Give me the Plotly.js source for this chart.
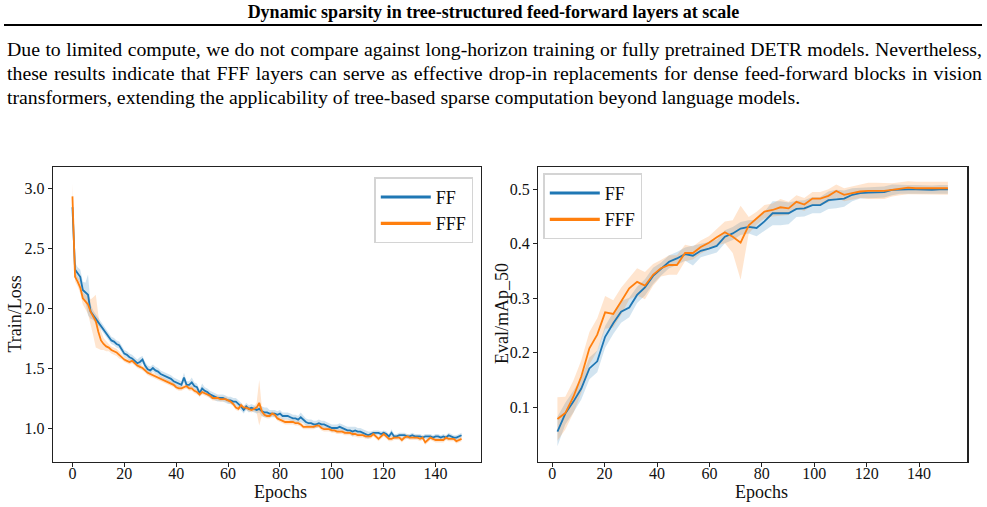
<!DOCTYPE html>
<html>
<head>
<meta charset="utf-8">
<script src="https://cdn.plot.ly/plotly-3.0.1.min.js"></script>
<style>
  html, body { margin: 0; padding: 0; background: #fff; }
  #page { position: relative; width: 987px; height: 507px; overflow: hidden; background: #fff; }
  #chart { position: absolute; left: 0; top: 0; width: 987px; height: 507px; }
  .serif { font-family: 'Liberation Serif', 'Times New Roman', serif; color: #000; }
  #hdr { position: absolute; left: 0; top: 1px; width: 987px; text-align: center;
         font-size: 18px; font-weight: bold; line-height: 22px; z-index: 2; }
  #rule { position: absolute; left: 4px; top: 24px; width: 978px; height: 2px; background: #000; z-index: 2; }
  #para { position: absolute; left: 7px; top: 37px; width: 975px; margin: 0;
          font-size: 19.8px; line-height: 24px; z-index: 2; }
  #para .jl { display: block; white-space: nowrap; text-align: justify; text-align-last: justify; }
  #para .ll { display: block; white-space: nowrap; text-align: left; }
</style>
</head>
<body>
<div id="page">
  <div id="chart"></div>
  <div id="hdr" class="serif">Dynamic sparsity in tree-structured feed-forward layers at scale</div>
  <div id="rule"></div>
  <p id="para" class="serif"><span class="jl">Due to limited compute, we do not compare against long-horizon training or fully pretrained DETR models. Nevertheless,</span><span class="jl">these results indicate that FFF layers can serve as effective drop-in replacements for dense feed-forward blocks in vision</span><span class="ll">transformers, extending the applicability of tree-based sparse computation beyond language models.</span></p>
</div>
<script>
// ---- training loss, one value per epoch (0..150) ----
const lossEpochs = Array.from({length: 151}, (_, i) => i);

const ffLoss = [
  2.84, 2.32, 2.29, 2.26, 2.15, 2.13, 2.11, 1.97, 1.94, 1.91,
  1.88, 1.85, 1.83, 1.80, 1.76, 1.73, 1.72, 1.70, 1.69, 1.65,
  1.62, 1.61, 1.59, 1.58, 1.56, 1.54, 1.55, 1.57, 1.52, 1.49,
  1.48, 1.50, 1.48, 1.47, 1.45, 1.44, 1.43, 1.42, 1.41, 1.39,
  1.38, 1.37, 1.36, 1.42, 1.36, 1.36, 1.38, 1.35, 1.34, 1.29,
  1.33, 1.31, 1.30, 1.28, 1.27, 1.26, 1.25, 1.25, 1.25, 1.24,
  1.23, 1.23, 1.22, 1.22, 1.20, 1.18, 1.15, 1.18, 1.16, 1.17,
  1.16, 1.15, 1.16, 1.14, 1.13, 1.13, 1.12, 1.12, 1.12, 1.11,
  1.12, 1.10, 1.10, 1.10, 1.09, 1.08, 1.08, 1.07, 1.09, 1.07,
  1.05, 1.04, 1.04, 1.03, 1.03, 1.04, 1.03, 1.03, 1.02, 1.01,
  1.00, 1.00, 1.00, 1.01, 1.00, 0.99, 0.98, 0.98, 0.97, 0.98,
  0.97, 0.97, 0.96, 0.95, 0.94, 0.95, 0.96, 0.96, 0.96, 0.95,
  0.96, 0.95, 0.93, 0.96, 0.93, 0.93, 0.94, 0.94, 0.94, 0.93,
  0.93, 0.94, 0.93, 0.93, 0.93, 0.92, 0.93, 0.93, 0.93, 0.92,
  0.93, 0.93, 0.92, 0.93, 0.92, 0.94, 0.93, 0.92, 0.92, 0.93, 0.94
];
const ffLossStd = [
  0.08, 0.06, 0.05, 0.06, 0.07, 0.08, 0.17, 0.06, 0.04, 0.04,
  0.03, 0.03, 0.03, 0.03, 0.03, 0.03, 0.03, 0.03, 0.03, 0.03,
  0.03, 0.03, 0.03, 0.03, 0.03, 0.03, 0.04, 0.03, 0.03, 0.03,
  0.03, 0.03, 0.03, 0.03, 0.03, 0.03, 0.03, 0.03, 0.03, 0.03,
  0.03, 0.03, 0.03, 0.04, 0.03, 0.03, 0.04, 0.03, 0.03, 0.03,
  0.04, 0.03, 0.03, 0.03, 0.03, 0.03, 0.03, 0.03, 0.03, 0.03,
  0.03, 0.03, 0.03, 0.03, 0.03, 0.03, 0.03, 0.03, 0.03, 0.03,
  0.03, 0.03, 0.03, 0.04, 0.04, 0.04, 0.03, 0.03, 0.03, 0.03,
  0.03, 0.03, 0.03, 0.03, 0.03, 0.03, 0.03, 0.03, 0.04, 0.03,
  0.03, 0.03, 0.03, 0.03, 0.03, 0.03, 0.03, 0.03, 0.03, 0.03,
  0.03, 0.03, 0.03, 0.03, 0.03, 0.03, 0.03, 0.03, 0.04, 0.03,
  0.03, 0.03, 0.03, 0.03, 0.03, 0.02, 0.02, 0.02, 0.02, 0.02,
  0.02, 0.02, 0.02, 0.03, 0.02, 0.02, 0.02, 0.02, 0.02, 0.02,
  0.02, 0.02, 0.02, 0.02, 0.02, 0.02, 0.02, 0.02, 0.02, 0.02,
  0.02, 0.02, 0.02, 0.02, 0.02, 0.02, 0.02, 0.02, 0.02, 0.02, 0.02
];
const fffLoss = [
  2.93, 2.26, 2.22, 2.17, 2.08, 2.05, 2.03, 1.97, 1.93, 1.89,
  1.80, 1.73, 1.70, 1.68, 1.67, 1.65, 1.64, 1.63, 1.61, 1.59,
  1.57, 1.56, 1.55, 1.56, 1.54, 1.52, 1.51, 1.50, 1.48, 1.46,
  1.45, 1.44, 1.43, 1.42, 1.41, 1.40, 1.39, 1.38, 1.37, 1.36,
  1.34, 1.33, 1.33, 1.34, 1.35, 1.33, 1.33, 1.31, 1.30, 1.28,
  1.30, 1.29, 1.28, 1.27, 1.25, 1.25, 1.25, 1.24, 1.24, 1.24,
  1.23, 1.22, 1.20, 1.17, 1.16, 1.19, 1.17, 1.17, 1.16, 1.15,
  1.16, 1.17, 1.21, 1.14, 1.11, 1.10, 1.10, 1.12, 1.11, 1.08,
  1.07, 1.06, 1.05, 1.05, 1.05, 1.05, 1.04, 1.04, 1.03, 1.01,
  1.01, 1.01, 1.01, 1.01, 1.02, 1.02, 1.00, 0.99, 0.99, 0.99,
  0.98, 0.98, 0.97, 0.97, 0.97, 0.96, 0.96, 0.96, 0.95, 0.95,
  0.94, 0.94, 0.94, 0.93, 0.93, 0.93, 0.95, 0.93, 0.91, 0.93,
  0.95, 0.93, 0.91, 0.91, 0.92, 0.92, 0.92, 0.90, 0.92, 0.93,
  0.92, 0.92, 0.92, 0.92, 0.91, 0.92, 0.88, 0.90, 0.92, 0.91,
  0.90, 0.90, 0.90, 0.90, 0.92, 0.91, 0.91, 0.91, 0.89, 0.90, 0.91
];
const fffLossStd = [
  0.11, 0.04, 0.04, 0.05, 0.05, 0.06, 0.08, 0.10, 0.16, 0.22,
  0.14, 0.08, 0.05, 0.04, 0.03, 0.03, 0.03, 0.03, 0.03, 0.02,
  0.02, 0.02, 0.02, 0.02, 0.02, 0.02, 0.02, 0.02, 0.02, 0.02,
  0.02, 0.02, 0.02, 0.02, 0.02, 0.02, 0.02, 0.02, 0.02, 0.02,
  0.02, 0.02, 0.02, 0.02, 0.02, 0.02, 0.02, 0.02, 0.02, 0.02,
  0.02, 0.02, 0.02, 0.02, 0.02, 0.02, 0.02, 0.02, 0.02, 0.02,
  0.02, 0.02, 0.02, 0.02, 0.02, 0.02, 0.02, 0.02, 0.02, 0.02,
  0.02, 0.04, 0.19, 0.04, 0.02, 0.02, 0.02, 0.02, 0.02, 0.02,
  0.02, 0.02, 0.02, 0.02, 0.02, 0.02, 0.02, 0.02, 0.02, 0.02,
  0.02, 0.02, 0.02, 0.02, 0.02, 0.02, 0.02, 0.02, 0.02, 0.02,
  0.02, 0.02, 0.02, 0.02, 0.02, 0.02, 0.02, 0.02, 0.02, 0.02,
  0.02, 0.02, 0.02, 0.02, 0.02, 0.02, 0.02, 0.02, 0.02, 0.02,
  0.02, 0.02, 0.02, 0.02, 0.02, 0.02, 0.02, 0.02, 0.02, 0.02,
  0.02, 0.02, 0.02, 0.02, 0.02, 0.02, 0.02, 0.02, 0.02, 0.02,
  0.02, 0.02, 0.02, 0.02, 0.02, 0.02, 0.02, 0.02, 0.02, 0.02, 0.02
];

// ---- evaluation mAP@50, evaluated every ~3 epochs ----
const evalEpochs = [
  2.0, 5.0, 8.1, 11.1, 14.2, 17.2, 20.2, 23.3, 26.3, 29.4,
  32.4, 35.4, 38.5, 41.5, 44.6, 47.6, 50.7, 53.7, 56.7, 59.8,
  62.8, 65.9, 68.9, 71.9, 75.0, 78.0, 81.0, 84.1, 87.1, 90.2,
  93.2, 96.2, 99.3, 102.3, 105.4, 108.4, 111.4, 114.5, 117.5, 120.6,
  123.6, 126.7, 129.7, 132.7, 135.8, 138.8, 141.9, 144.9, 147.9, 151.0
];
const ffMap = [
  0.055, 0.088, 0.110, 0.134, 0.171, 0.184, 0.229, 0.254, 0.275, 0.283,
  0.306, 0.320, 0.341, 0.353, 0.367, 0.373, 0.381, 0.378, 0.387, 0.391,
  0.396, 0.413, 0.419, 0.428, 0.431, 0.429, 0.441, 0.456, 0.456, 0.456,
  0.464, 0.465, 0.471, 0.471, 0.480, 0.482, 0.483, 0.490, 0.493, 0.494,
  0.494, 0.495, 0.499, 0.500, 0.500, 0.500, 0.499, 0.499, 0.500, 0.500
];
const ffMapStd = [
  0.027, 0.020, 0.020, 0.020, 0.020, 0.020, 0.020, 0.020, 0.020, 0.018,
  0.015, 0.015, 0.015, 0.012, 0.012, 0.012, 0.012, 0.018, 0.012, 0.012,
  0.012, 0.012, 0.012, 0.012, 0.012, 0.015, 0.018, 0.022, 0.022, 0.020,
  0.015, 0.015, 0.015, 0.015, 0.016, 0.017, 0.015, 0.012, 0.010, 0.010,
  0.010, 0.010, 0.010, 0.008, 0.008, 0.008, 0.008, 0.008, 0.008, 0.008
];
const fffMap = [
  0.078, 0.089, 0.119, 0.156, 0.208, 0.233, 0.274, 0.271, 0.294, 0.318,
  0.330, 0.323, 0.343, 0.355, 0.361, 0.361, 0.383, 0.383, 0.394, 0.402,
  0.412, 0.421, 0.413, 0.402, 0.434, 0.447, 0.459, 0.462, 0.467, 0.465,
  0.477, 0.472, 0.483, 0.483, 0.488, 0.497, 0.490, 0.493, 0.496, 0.497,
  0.497, 0.497, 0.499, 0.501, 0.503, 0.502, 0.502, 0.502, 0.502, 0.502
];
const fffMapStd = [
  0.040, 0.030, 0.030, 0.030, 0.030, 0.030, 0.030, 0.025, 0.025, 0.020,
  0.025, 0.025, 0.020, 0.015, 0.018, 0.018, 0.015, 0.012, 0.012, 0.012,
  0.015, 0.020, 0.030, 0.068, 0.015, 0.012, 0.012, 0.012, 0.015, 0.012,
  0.012, 0.012, 0.012, 0.012, 0.012, 0.012, 0.012, 0.012, 0.012, 0.015,
  0.015, 0.015, 0.012, 0.012, 0.012, 0.012, 0.012, 0.012, 0.012, 0.012
];

const colors = {FF: '#1f77b4', FFF: '#ff7f0e'};
const bandColors = {FF: 'rgba(31,119,180,0.2)', FFF: 'rgba(255,127,14,0.2)'};
const lossTicks = [1.0, 1.5, 2.0, 2.5, 3.0];
const mapTicks = [0.1, 0.2, 0.3, 0.4, 0.5];
const epochTicks = [0, 20, 40, 60, 80, 100, 120, 140];

const FONT = "'Liberation Serif', 'Times New Roman', serif";
const W = 987, H = 507;
const px = v => v / W;          // horizontal pixel -> paper fraction
const py = v => 1 - v / H;      // vertical pixel -> paper fraction

// shaded mean ± std band as a closed polygon
function band(x, mean, std, name, xa, ya) {
  const up = mean.map((m, i) => m + std[i]);
  const lo = mean.map((m, i) => m - std[i]);
  return {
    x: x.concat(x.slice().reverse()),
    y: up.concat(lo.slice().reverse()),
    type: 'scatter', mode: 'lines', fill: 'toself',
    fillcolor: bandColors[name], line: {width: 0, color: 'rgba(0,0,0,0)'},
    xaxis: xa, yaxis: ya, showlegend: false, hoverinfo: 'skip'
  };
}
function line(x, y, name, xa, ya) {
  return {
    x: x, y: y, type: 'scatter', mode: 'lines', name: name,
    line: {color: colors[name], width: 1.8},
    xaxis: xa, yaxis: ya, showlegend: false
  };
}
// legend-only entries, drawn with a heavier stroke
function key(name, xa, ya, legendId) {
  return {
    x: [null], y: [null], type: 'scatter', mode: 'lines', name: name,
    line: {color: colors[name], width: 3.2},
    xaxis: xa, yaxis: ya, showlegend: true, legend: legendId
  };
}

const traces = [
  band(lossEpochs, ffLoss, ffLossStd, 'FF', 'x', 'y'),
  band(lossEpochs, fffLoss, fffLossStd, 'FFF', 'x', 'y'),
  line(lossEpochs, ffLoss, 'FF', 'x', 'y'),
  line(lossEpochs, fffLoss, 'FFF', 'x', 'y'),
  band(evalEpochs, ffMap, ffMapStd, 'FF', 'x2', 'y2'),
  band(evalEpochs, fffMap, fffMapStd, 'FFF', 'x2', 'y2'),
  line(evalEpochs, ffMap, 'FF', 'x2', 'y2'),
  line(evalEpochs, fffMap, 'FFF', 'x2', 'y2'),
  key('FF', 'x', 'y', 'legend'), key('FFF', 'x', 'y', 'legend'),
  key('FF', 'x2', 'y2', 'legend2'), key('FFF', 'x2', 'y2', 'legend2')
];

const axisCommon = {
  showline: true, mirror: true, linecolor: '#222', linewidth: 1.3,
  showgrid: false, zeroline: false,
  ticks: 'outside', ticklen: 4, tickwidth: 1, tickcolor: '#222',
  tickfont: {family: FONT, size: 16, color: '#111'}
};
const xAxisCommon = Object.assign({}, axisCommon, {ticklabelstandoff: -7});
const yDomain = [py(461.5), py(167)];

const legendCommon = {
  font: {family: FONT, size: 18, color: '#111'},
  bgcolor: 'rgba(255,255,255,0.85)', bordercolor: '#d4d4d4', borderwidth: 1.5,
  tracegroupgap: 0, itemwidth: 50, yanchor: 'top'
};

const labelFont = {family: FONT, size: 18, color: '#111'};
function label(text, x, y, angle) {
  return {text: text, x: px(x), y: py(y), xref: 'paper', yref: 'paper', showarrow: false,
          xanchor: 'center', yanchor: 'middle', textangle: angle, font: labelFont};
}

const layout = {
  width: W, height: H,
  margin: {l: 0, r: 0, t: 0, b: 0},
  paper_bgcolor: 'rgba(0,0,0,0)', plot_bgcolor: '#fff',
  showlegend: true,
  xaxis: Object.assign({}, xAxisCommon, {domain: [px(53), px(481)], range: [-7.5, 157.5],
    tickvals: epochTicks, anchor: 'y'}),
  yaxis: Object.assign({}, axisCommon, {domain: yDomain, range: [0.721, 3.175],
    tickvals: lossTicks, tickformat: '.1f', anchor: 'x'}),
  xaxis2: Object.assign({}, xAxisCommon, {domain: [px(538.3), px(967.3)], range: [-5.3, 158.4],
    tickvals: epochTicks, anchor: 'y2'}),
  yaxis2: Object.assign({}, axisCommon, {domain: yDomain, range: [0.0, 0.541],
    tickvals: mapTicks, tickformat: '.1f', anchor: 'x2'}),
  legend: Object.assign({}, legendCommon, {x: px(473.3), xanchor: 'right', y: py(177.3)}),
  legend2: Object.assign({}, legendCommon, {x: px(543.3), xanchor: 'left', y: py(173.3)}),
  annotations: [
    label('Epochs', 280, 492, 0),
    label('Epochs', 761, 492, 0),
    label('Train/Loss', 14.5, 314, -90),
    label('Eval/mAp_50', 502, 314, -90)
  ]
};

Plotly.newPlot('chart', traces, layout, {staticPlot: true, displayModeBar: false});
</script>
</body>
</html>
